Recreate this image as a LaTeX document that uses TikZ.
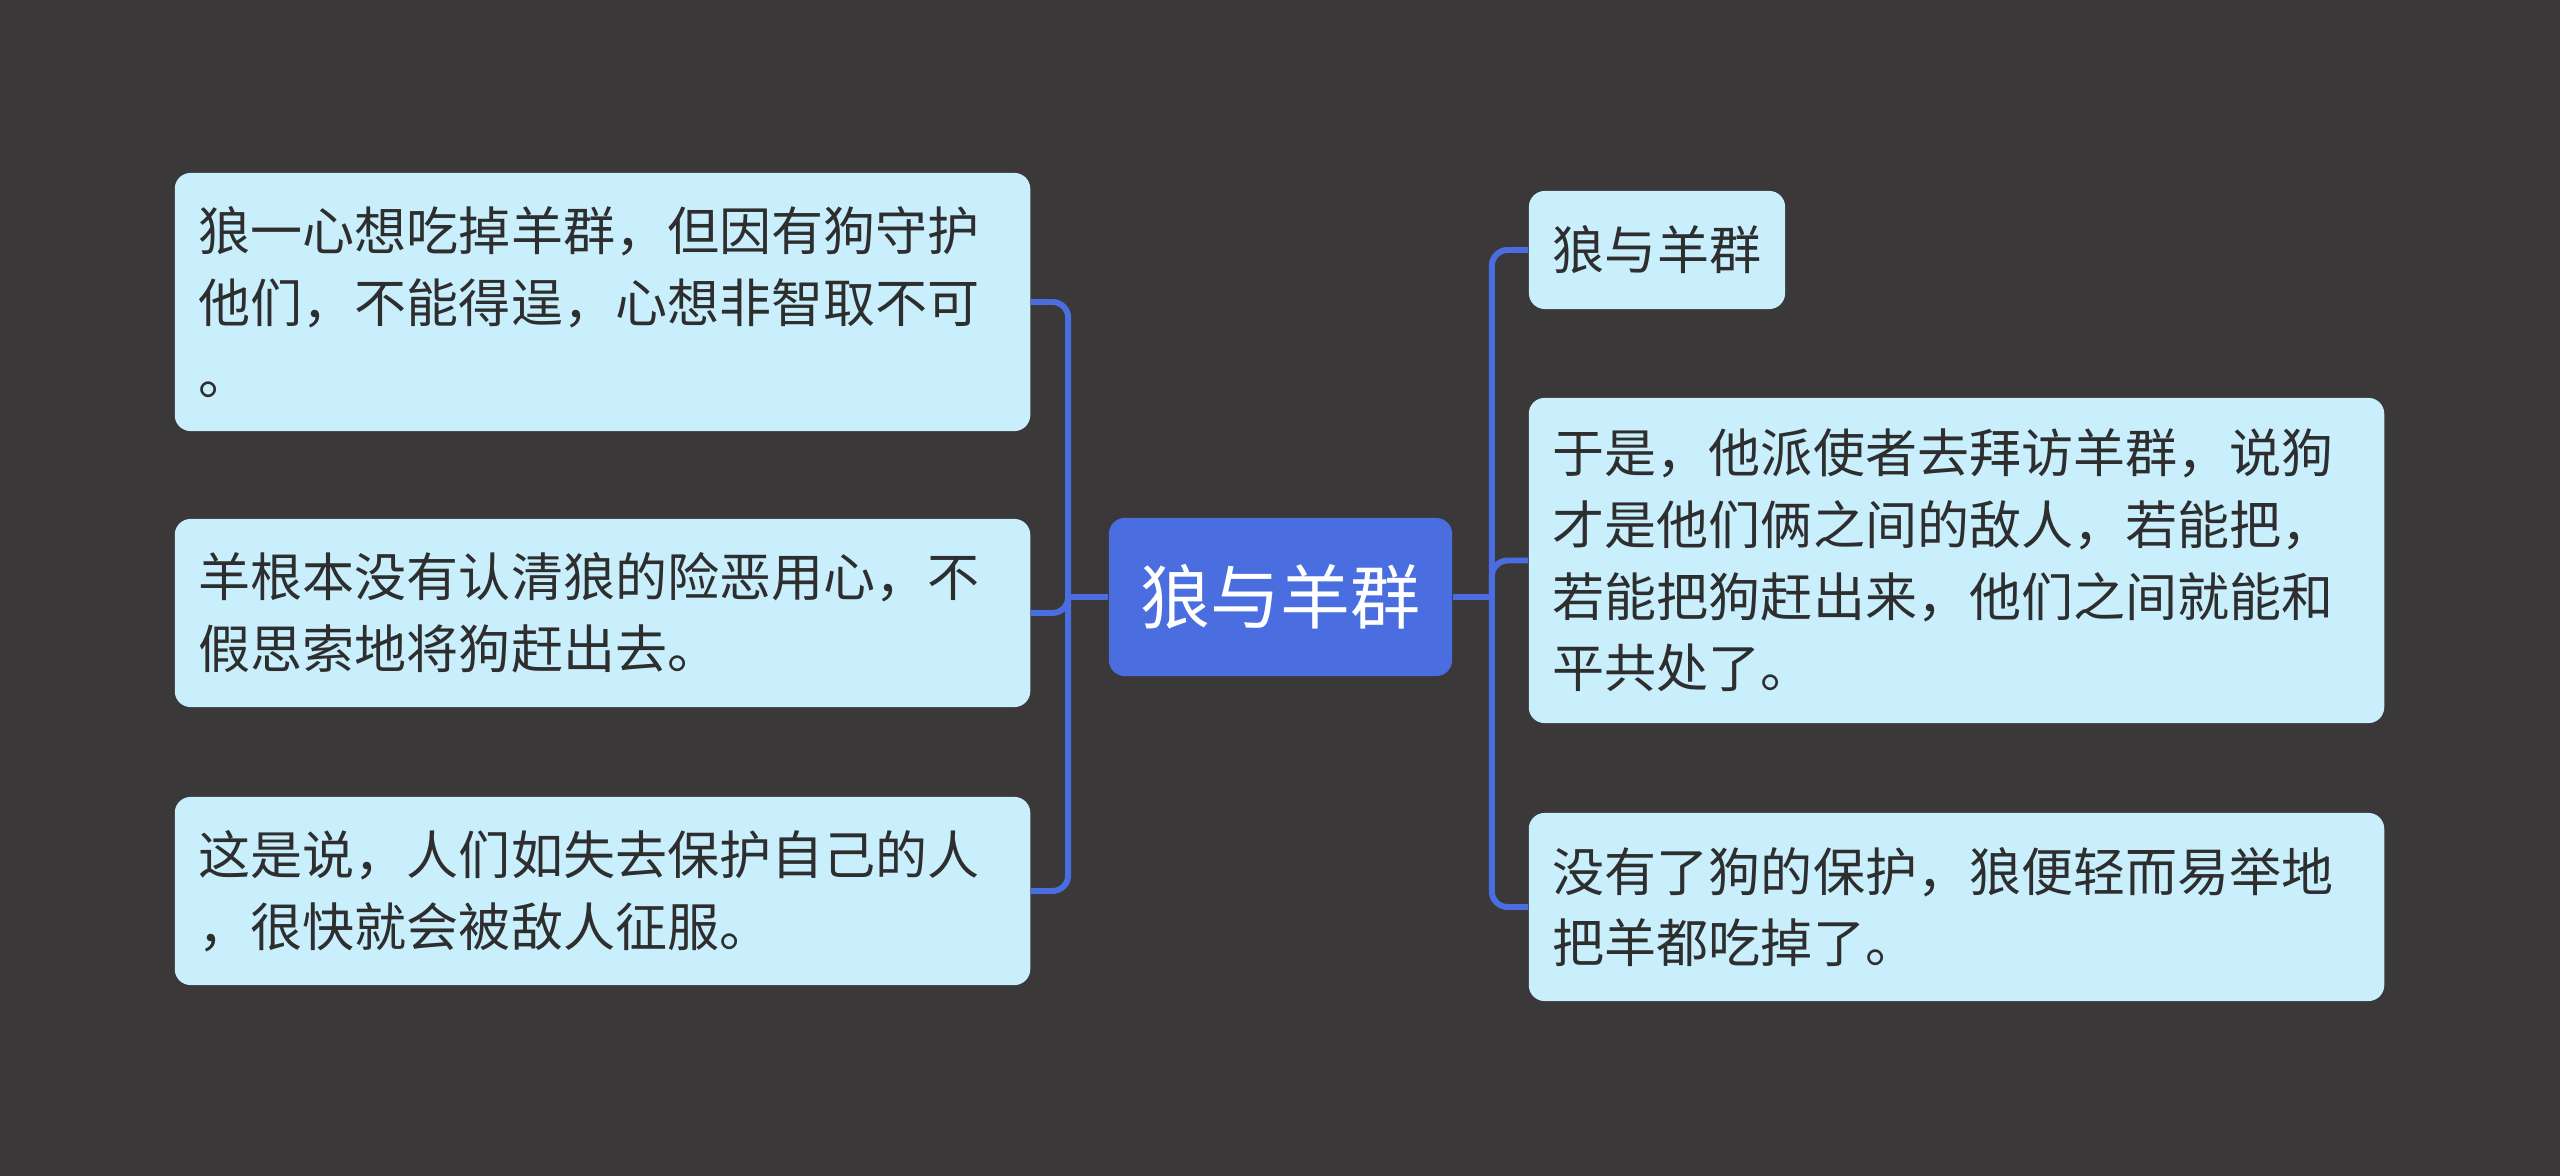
\documentclass[tikz,border=0pt]{standalone}
\usepackage{fontspec}
\newfontfamily\cjk{Noto Sans CJK SC}
\usetikzlibrary{positioning}
\definecolor{bgdark}{HTML}{3A3839}
\definecolor{rootblue}{HTML}{4A6EE0}
\definecolor{leafcyan}{HTML}{C9EFFD}
\definecolor{inkdark}{HTML}{2E2E2E}
\tikzset{
    root/.style={rectangle, rounded corners=4.5pt, fill=rootblue, text=white,
        font=\fontsize{19.9pt}{24pt}\selectfont\cjk,
        minimum width=3.43cm, minimum height=1.58cm},
    leaf/.style={rectangle, rounded corners=4.5pt, fill=leafcyan, text=inkdark,
        font=\fontsize{14.8pt}{20.4pt}\selectfont\cjk, align=left,
        inner xsep=0.24cm, inner ysep=0pt},
    wide/.style={leaf, text width=8.07cm},
    link/.style={draw=rootblue, line width=1.7pt, rounded corners=4.5pt},
}
\begin{document}
\begin{tikzpicture}[x=0.01cm, y=-0.01cm]
    \fill[bgdark] (0,0) rectangle (2560,1176);
    \useasboundingbox (0,0) rectangle (2560,1176);

    \node[root] (wolf) at (1280.5,597) {狼与羊群};

    \node[wide, minimum height=2.58cm] (l1) at (602.5,302)
        {狼一心想吃掉羊群，但因有狗守护\\他们，不能得逞，心想非智取不可\\。};
    \node[wide, minimum height=1.88cm] (l2) at (602.5,613)
        {羊根本没有认清狼的险恶用心，不\\假思索地将狗赶出去。};
    \node[wide, minimum height=1.88cm] (l3) at (602.5,891)
        {这是说，人们如失去保护自己的人\\，很快就会被敌人征服。};

    \node[leaf, minimum height=1.18cm] (r1) at (1657,250) {狼与羊群};
    \node[wide, minimum height=3.25cm] (r2) at (1956.5,560.5)
        {于是，他派使者去拜访羊群，说狗\\才是他们俩之间的敌人，若能把，\\若能把狗赶出来，他们之间就能和\\平共处了。};
    \node[wide, minimum height=1.88cm] (r3) at (1956.5,907)
        {没有了狗的保护，狼便轻而易举地\\把羊都吃掉了。};

    \coordinate (lbus) at ([xshift=-40*0.01cm]wolf.west);
    \coordinate (rbus) at ([xshift=39*0.01cm]wolf.east);
    \draw[link] (wolf.west) -- (lbus);
    \draw[link] (wolf.east) -- (rbus);
    \foreach \leafname in {l1,l2,l3}
        \draw[link] (lbus) |- (\leafname.east);
    \foreach \leafname in {r1,r2,r3}
        \draw[link] (rbus) |- (\leafname.west);
\end{tikzpicture}
\end{document}
